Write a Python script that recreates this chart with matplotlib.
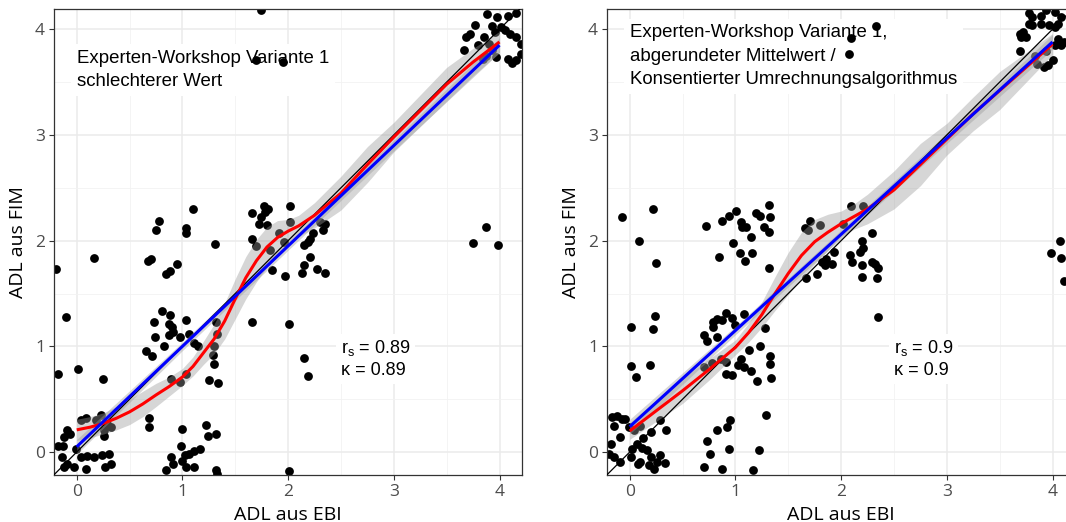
import matplotlib
matplotlib.use("Agg")
import matplotlib.pyplot as plt
import numpy as np

plt.rcParams['font.family'] = ['Open Sans', 'DejaVu Sans']

# ---------------- data: left panel (jittered points) ----------------
left_x = [1.10, 0.78, 0.75, 1.03, 1.03, 1.31, 0.16, 0.67, 0.70, 0.95, 0.84, 0.88, -0.20, -0.10,
          0.81, 0.88, 0.73, 0.87, 0.90, 1.03, 0.91, 0.87, 0.74, 0.98, 1.06, 1.11, 1.15, 1.32,
          1.33, 1.30, 0.83, 0.66, 0.71, 1.29, 1.30, -0.18, 0.01, 0.25, 0.89, 0.98, 1.03, 1.25,
          1.34, 0.68, 0.68, 1.00, 1.22, 1.24, 1.32, 0.04, 0.09, 0.18, 0.23, 0.29, 0.32, 0.26,
          -0.09, -0.06, -0.12, -0.18, -0.13, -0.01, 0.26, -0.14, -0.09, 0.04, 0.10, 0.16, 0.24,
          0.31, 0.32, 0.27, 0.09, -0.03, -0.12, 0.99, 1.02, 1.06, 1.11, 1.17, 0.89, 0.91, 1.00,
          1.03, 1.11, 0.84, 1.32, 1.33,
          1.77, 1.81, 1.78, 1.66, 1.74, 1.80, 1.72, 2.02, 2.02, 1.66, 1.70, 1.91, 1.96, 2.30,
          2.35, 2.33, 2.24, 2.21, 2.19, 2.15, 2.21, 2.15, 2.13, 2.27, 2.35, 1.85, 1.97, 1.83,
          2.01, 2.15, 2.19, 1.66, 2.01, 1.74, 1.70, 1.95, 3.75, 3.87, 3.99,
          3.88, 3.98, 4.08, 4.16, 3.77, 3.72, 3.68, 3.93, 3.96, 4.01, 4.05, 4.10, 4.16, 3.66,
          3.85, 3.90, 3.80, 3.93, 3.87, 3.84, 3.97, 4.08, 4.12, 4.16, 4.20, 4.20]
left_y = [2.30, 2.19, 2.10, 2.12, 2.07, 1.97, 1.84, 1.81, 1.83, 1.78, 1.68, 1.71, 1.73, 1.28,
          1.33, 1.30, 1.23, 1.21, 1.18, 1.25, 1.14, 1.11, 1.09, 1.09, 1.12, 1.03, 1.00, 1.23,
          1.12, 1.00, 1.00, 0.96, 0.91, 0.92, 0.83, 0.74, 0.79, 0.69, 0.69, 0.66, 0.74, 0.68,
          0.65, 0.32, 0.24, 0.22, 0.26, 0.15, 0.17, 0.30, 0.32, 0.30, 0.35, 0.27, 0.24, 0.21,
          0.21, 0.17, 0.14, 0.06, 0.06, 0.03, 0.15, -0.05, -0.11, -0.05, -0.04, -0.05, -0.03,
          -0.02, -0.11, -0.14, -0.16, -0.14, -0.14, 0.06, -0.03, -0.02, 0.01, 0.03, -0.05, -0.11, -0.08,
          -0.14, -0.14, -0.17, -0.17, -0.21,
          2.33, 2.30, 2.27, 2.26, 2.22, 2.15, 2.16, 2.33, 2.18, 2.02, 1.95, 2.07, 1.99, 2.18,
          2.16, 2.10, 2.07, 2.02, 1.99, 1.96, 1.85, 1.77, 1.69, 1.73, 1.69, 1.72, 1.67, 1.91,
          1.21, 0.89, 0.72, 1.23, -0.18, 4.18, 3.71, 3.69, 1.98, 2.13, 1.96,
          4.14, 4.12, 4.13, 4.15, 4.04, 3.96, 3.93, 4.03, 3.97, 4.02, 3.99, 3.96, 3.93, 3.80,
          3.93, 3.86, 3.85, 3.80, 3.75, 3.72, 3.74, 3.72, 3.68, 3.71, 3.77, 3.86]

# ---------------- data: right panel (jittered points) ----------------
right_x = [-0.07, 0.22, 0.09, 0.25, 0.72, 0.87, 0.94, 1.01, 1.05, 1.06, 1.10, 1.19, 1.23, 1.32,
           1.33, 1.27, 1.32, 1.15, 0.98, 1.04, 1.09, 1.16, 0.84, 1.32, 0.24, 0.22, 0.01, 0.01,
           0.19, 0.06, 0.91, 0.83, 0.79, 0.87, 0.97, 0.70, 0.73, 0.79, 0.83, 1.08, 1.00, 1.28,
           1.23, 1.13, 1.33, 1.33, 1.34, 1.20, 0.70, 0.78, 0.86, 0.91, 0.91, 0.97, 1.02, 1.05,
           1.08, 1.15, 1.29, 0.95, 0.92, 0.83, 0.73, 0.76, 0.94, 1.22, 0.70, 0.87, 1.17,
           -0.17, -0.12, -0.07, -0.15, -0.09, -0.18, -0.01, 0.10, 0.04, 0.29, 0.34, 0.20, 0.13,
           0.07, 0.16, 0.02, -0.15, -0.09, 0.01, 0.10, 0.20, 0.29, 0.26, 0.23, 0.08, -0.20,
           -0.04, 0.12, 0.18, 0.33,
           2.09, 2.21, 1.71, 1.66, 1.69, 1.80, 2.02, 2.29, 2.20, 2.21, 2.18, 1.93, 1.86, 1.82,
           1.91, 1.85, 2.08, 2.10, 2.20, 2.29, 2.32, 2.35, 1.67, 1.77, 2.20, 2.34, 2.35,
           3.78, 3.81, 3.89, 3.94, 4.02, 3.78, 3.81, 3.89, 3.97, 4.02, 4.05, 4.08, 3.69, 3.72,
           3.70, 3.75, 4.05, 4.02, 4.08, 4.11, 3.69, 3.83, 3.94, 4.00, 3.96, 3.92, 3.85,
           2.09, 2.07, 2.33, 4.07, 3.99, 4.08, 4.11]
right_y = [2.22, 2.30, 2.00, 1.79, 2.14, 2.19, 2.23, 2.28, 2.18, 2.13, 2.13, 2.26, 2.23, 2.34,
           2.22, 2.13, 2.08, 2.03, 1.98, 1.88, 1.81, 1.88, 1.85, 1.74, 1.29, 1.16, 1.18, 0.81,
           0.82, 0.71, 1.32, 1.26, 1.23, 1.25, 1.27, 1.11, 1.05, 1.18, 1.09, 1.31, 1.20, 1.17,
           1.00, 0.97, 0.91, 0.83, 0.70, 0.67, 0.80, 0.84, 0.88, 0.85, 0.74, 0.73, 0.82, 0.88,
           0.80, 0.77, 0.35, 0.30, 0.24, 0.21, 0.10, -0.02, 0.03, 0.02, -0.14, -0.16, -0.17,
           0.33, 0.34, 0.31, 0.25, 0.14, 0.08, 0.24, 0.25, 0.21, 0.30, 0.21, 0.19, 0.13,
           0.08, 0.02, 0.03, -0.05, -0.09, -0.05, -0.09, -0.05, -0.03, -0.09, -0.16, -0.11, -0.02,
           0.31, 0.04, -0.12, -0.10,
           2.33, 2.33, 2.19, 2.12, 2.10, 2.15, 2.16, 2.07, 2.00, 1.93, 1.89, 1.89, 1.83, 1.80,
           1.78, 1.77, 1.86, 1.80, 1.77, 1.80, 1.78, 1.74, 1.65, 1.68, 1.66, 1.65, 1.28,
           4.15, 4.12, 4.13, 4.18, 4.16, 4.05, 4.04, 4.05, 4.04, 4.02, 4.05, 4.12, 3.96, 3.97,
           3.93, 3.93, 3.91, 3.85, 3.85, 3.88, 3.79, 3.75, 3.79, 3.71, 3.66, 3.64, 3.67,
           3.92, 3.77, 4.03, 2.00, 1.88, 1.84, 1.62]

# ---------------- fitted curves ----------------
left_loess_x = [0, 0.125, 0.25, 0.375, 0.5, 0.625, 0.75, 0.875, 1.0, 1.1, 1.2, 1.3, 1.4, 1.5,
                1.6, 1.7, 1.8, 1.9, 2.0, 2.1, 2.25, 2.5, 2.75, 3.0, 3.25, 3.5, 3.75, 4.0]
left_loess_y = [0.21, 0.235, 0.27, 0.32, 0.38, 0.455, 0.54, 0.62, 0.71, 0.81, 0.94, 1.07, 1.24,
                1.45, 1.65, 1.81, 1.94, 2.03, 2.09, 2.14, 2.24, 2.45, 2.72, 2.98, 3.23, 3.48,
                3.69, 3.88]
left_loess_se = [0.10, 0.10, 0.10, 0.11, 0.12, 0.12, 0.11, 0.09, 0.08, 0.09, 0.11, 0.14, 0.17,
                 0.19, 0.20, 0.20, 0.19, 0.16, 0.11, 0.10, 0.12, 0.16, 0.17, 0.14, 0.15, 0.16,
                 0.13, 0.10]
left_lm_x = [0, 1, 2, 3, 4]
left_lm_y = [0.05, 1.00, 1.95, 2.90, 3.85]
left_lm_se = [0.07, 0.04, 0.04, 0.05, 0.07]

right_loess_x = [0, 0.25, 0.5, 0.75, 1.0, 1.125, 1.25, 1.375, 1.5, 1.625, 1.75, 1.875, 2.0,
                 2.125, 2.25, 2.5, 2.75, 3.0, 3.25, 3.5, 3.75, 4.0]
right_loess_y = [0.20, 0.39, 0.58, 0.78, 0.99, 1.13, 1.30, 1.50, 1.69, 1.86, 1.99, 2.08, 2.16,
                 2.23, 2.30, 2.48, 2.72, 2.96, 3.20, 3.42, 3.64, 3.86]
right_loess_se = [0.08, 0.10, 0.12, 0.10, 0.07, 0.09, 0.12, 0.16, 0.20, 0.22, 0.21, 0.17, 0.12,
                  0.12, 0.14, 0.18, 0.20, 0.15, 0.16, 0.18, 0.14, 0.10]
right_lm_x = [0, 1, 2, 3, 4]
right_lm_y = [0.24, 1.15, 2.06, 2.97, 3.88]
right_lm_se = [0.07, 0.04, 0.04, 0.05, 0.07]

ticks = [0, 1, 2, 3, 4]
tick_labels = ["0", "1", "2", "3", "4"]
xlabel = "ADL aus EBI"
ylabel = "ADL aus FIM"
left_label = "Experten-Workshop Variante 1\nschlechterer Wert"
right_label = "Experten-Workshop Variante 1,\nabgerundeter Mittelwert /\nKonsentierter Umrechnungsalgorithmus"
left_rs, left_kappa = "0.89", "0.89"
right_rs, right_kappa = "0.9", "0.9"

# ---------------- figure ----------------
W, H = 1066, 522
fig = plt.figure(figsize=(W / 100, H / 100), dpi=100)
ax_w, ax_h = 467.7 / W, 466.1 / H
bottom = (H - 475.3) / H
axL = fig.add_axes([54 / W, bottom, ax_w, ax_h])
axR = fig.add_axes([607 / W, bottom, ax_w, ax_h])

band_col = "#999999"
label_font = ["Liberation Sans", "DejaVu Sans"]


def draw_panel(ax, px, py, lx, ly, lse, mx, my, mse, label, label_y, rs, kap):
    ax.set_xlim(-0.215, 4.21)
    ax.set_ylim(-0.22, 4.19)
    ax.set_facecolor("white")
    ax.set_xticks(ticks)
    ax.set_xticklabels(tick_labels)
    ax.set_yticks(ticks)
    ax.set_yticklabels(tick_labels)
    ax.set_xticks([0.5, 1.5, 2.5, 3.5], minor=True)
    ax.set_yticks([0.5, 1.5, 2.5, 3.5], minor=True)
    ax.grid(which="major", color="#EBEBEB", lw=1.1, zorder=0)
    ax.grid(which="minor", color="#F2F2F2", lw=0.6, zorder=0)
    ax.set_axisbelow(True)
    for s in ax.spines.values():
        s.set_color("#333333")
        s.set_linewidth(0.9)
    ax.tick_params(which="major", length=3.5, width=0.8, color="#333333",
                   labelcolor="#4D4D4D", labelsize=12.5, pad=3)
    ax.tick_params(which="minor", length=0)
    ax.set_xlabel(xlabel, fontsize=14, labelpad=4)
    ax.set_ylabel(ylabel, fontsize=14, labelpad=6)

    # labels with white background (drawn beneath the points)
    ax.text(0.0, label_y, label, fontsize=13.4, family=label_font,
            ha="left", va="center", linespacing=1.5, zorder=1.5,
            bbox=dict(facecolor="white", edgecolor="none", boxstyle="square,pad=0.3"))
    ax.text(2.5, 0.98, r"r$_\mathregular{s}$ = " + rs, fontsize=13, family=label_font,
            ha="left", va="center", zorder=1.5,
            bbox=dict(facecolor="white", edgecolor="none", boxstyle="square,pad=0.25"))
    ax.text(2.5, 0.77, "\u03ba = " + kap, fontsize=13, family=label_font,
            ha="left", va="center", zorder=1.5,
            bbox=dict(facecolor="white", edgecolor="none", boxstyle="square,pad=0.25"))

    ax.scatter(px, py, s=40, c="black", linewidths=0, zorder=2)

    lx = np.asarray(lx); ly = np.asarray(ly); lse = np.asarray(lse)
    mx = np.asarray(mx); my = np.asarray(my); mse = np.asarray(mse)
    ax.fill_between(lx, ly - lse, ly + lse, color=band_col, alpha=0.4, lw=0, zorder=3)
    ax.fill_between(mx, my - mse, my + mse, color=band_col, alpha=0.4, lw=0, zorder=3)
    ax.axline((0, 0), slope=1, color="black", lw=0.9, zorder=3.5)
    ax.plot(lx, ly, color="#FF0000", lw=2.2, zorder=4, solid_capstyle="butt",
            solid_joinstyle="round")
    ax.plot(mx, my, color="#0000FF", lw=2.2, zorder=5, solid_capstyle="butt")


draw_panel(axL, left_x, left_y, left_loess_x, left_loess_y, left_loess_se,
           left_lm_x, left_lm_y, left_lm_se, left_label, 3.615, left_rs, left_kappa)
draw_panel(axR, right_x, right_y, right_loess_x, right_loess_y, right_loess_se,
           right_lm_x, right_lm_y, right_lm_se, right_label, 3.745, right_rs, right_kappa)

fig.savefig("out.png", dpi=100)
